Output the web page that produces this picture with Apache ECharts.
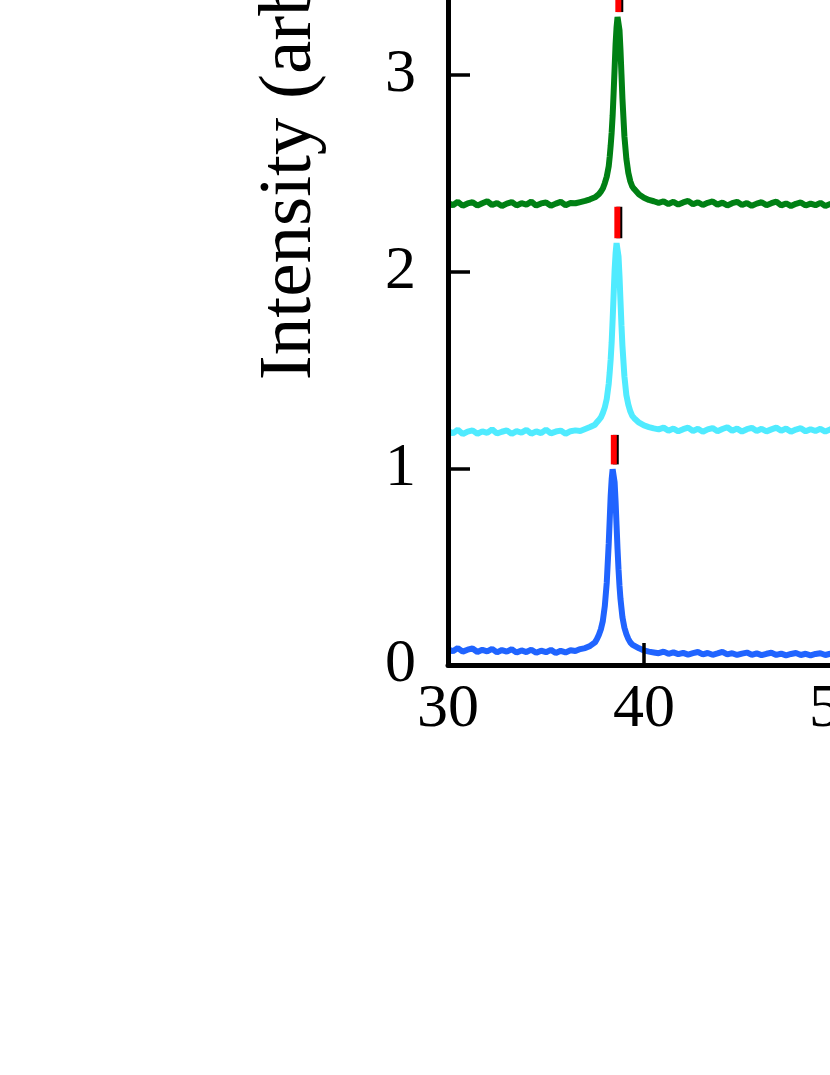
<!DOCTYPE html>
<html><head><meta charset="utf-8">
<script src="https://cdn.jsdelivr.net/npm/echarts@6/dist/echarts.min.js"></script>
<style>html,body{margin:0;padding:0;background:#fff}#c{width:830px;height:1075px}</style>
</head><body><div id="c"></div>
<script>
// 2θ sampling positions (degrees)
const twoTheta = [30,30.25,30.5,30.75,31,31.25,31.5,31.75,32,32.25,32.5,32.75,33,33.25,33.5,33.75,34,34.25,34.5,34.75,35,35.25,35.5,35.75,36,36.25,36.5,36.75,37,37.25,37.5,
37.6,37.7,37.8,37.9,38.0,38.1,38.2,38.25,38.3,38.35,38.4,38.45,38.5,38.55,38.6,38.65,38.7,38.75,38.8,38.85,38.9,39.0,39.1,39.2,39.3,39.4,
39.5,39.75,40,40.25,40.5,40.75,41,41.25,41.5,41.75,42,42.25,42.5,42.75,43,43.25,43.5,43.75,44,44.25,44.5,44.75,45,45.25,45.5,45.75,46,46.25,46.5,46.75,47,47.25,47.5,47.75,48,48.25,48.5,48.75,49,49.25,49.5,49.75,50];

const blueY = [0.08,0.07,0.086,0.068,0.078,0.084,0.066,0.077,0.069,0.082,0.064,0.076,0.068,0.08,0.063,0.074,0.066,0.078,0.062,0.073,0.065,0.077,0.061,0.072,0.064,0.075,0.071,0.081,0.086,0.097,0.115,
0.132,0.154,0.182,0.224,0.299,0.42,0.617,0.738,0.86,0.944,0.995,0.99,0.93,0.832,0.71,0.589,0.486,0.402,0.336,0.289,0.243,0.19,0.157,0.133,0.115,0.104,
0.098,0.085,0.074,0.068,0.064,0.06,0.068,0.057,0.064,0.055,0.062,0.053,0.06,0.066,0.054,0.061,0.052,0.059,0.067,0.054,0.06,0.051,0.058,0.063,0.052,0.059,0.05,0.057,0.062,0.051,0.058,0.049,0.056,0.061,0.051,0.057,0.049,0.056,0.06,0.051,0.057,0.05,0.055];

const cyanY = [1.19,1.178,1.196,1.174,1.187,1.193,1.176,1.188,1.18,1.198,1.177,1.186,1.193,1.175,1.189,1.181,1.195,1.176,1.188,1.179,1.197,1.178,1.187,1.192,1.176,1.189,1.193,1.19,1.2,1.21,1.222,
1.235,1.246,1.259,1.281,1.31,1.353,1.43,1.488,1.555,1.641,1.756,1.881,2.006,2.092,2.145,2.14,2.078,1.977,1.852,1.728,1.622,1.468,1.372,1.324,1.29,1.267,
1.255,1.232,1.218,1.21,1.203,1.198,1.207,1.191,1.202,1.188,1.199,1.207,1.19,1.201,1.186,1.198,1.205,1.189,1.2,1.209,1.191,1.202,1.187,1.199,1.206,1.19,1.201,1.188,1.198,1.207,1.191,1.202,1.186,1.197,1.204,1.188,1.199,1.19,1.201,1.187,1.198,1.205,1.192];

const greenY = [2.35,2.338,2.355,2.335,2.347,2.353,2.336,2.348,2.358,2.339,2.349,2.334,2.346,2.354,2.337,2.348,2.341,2.356,2.336,2.347,2.352,2.335,2.346,2.355,2.338,2.349,2.348,2.354,2.36,2.368,2.378,
2.385,2.394,2.407,2.423,2.45,2.483,2.536,2.584,2.641,2.708,2.794,2.908,3.033,3.157,3.243,3.295,3.29,3.228,3.128,3.004,2.88,2.689,2.574,2.503,2.46,2.433,
2.42,2.392,2.376,2.365,2.358,2.35,2.358,2.344,2.355,2.341,2.352,2.36,2.343,2.353,2.339,2.35,2.357,2.341,2.351,2.337,2.348,2.355,2.339,2.349,2.335,2.346,2.353,2.338,2.348,2.356,2.337,2.347,2.334,2.345,2.352,2.336,2.346,2.338,2.35,2.334,2.344,2.351,2.337];

// reference peak markers (position, bottom, top)
const refX  = [38.46, 38.64, 38.69];
const refY0 = [1.02, 2.17, 3.32];
const refY1 = [1.17, 2.33, 3.48];

const yTickLabels = ['0','1','2','3','4','5','6'];

const FONT = "'Liberation Serif','Times New Roman',serif";
const zip = (ys) => twoTheta.map((x, i) => [x, ys[i]]);

const series = [
  {name:'blue', type:'line', data: zip(blueY), color:'#2064ff'},
  {name:'cyan', type:'line', data: zip(cyanY), color:'#50ebff'},
  {name:'green', type:'line', data: zip(greenY), color:'#008014'}
].map(s => Object.assign(s, {showSymbol:false, symbol:'none', lineStyle:{width:6, color:s.color}, z:2, animation:false}));

refX.forEach((x, i) => {
  series.push({type:'line', showSymbol:false, symbol:'none', animation:false, z:3,
    data:[[x + 0.1, refY0[i]], [x + 0.1, refY1[i]]], lineStyle:{width:6, color:'#000'}});
  series.push({type:'line', showSymbol:false, symbol:'none', animation:false, z:4,
    data:[[x, refY0[i]], [x, refY1[i]]], lineStyle:{width:6, color:'#ff0000'}});
});

const chart = echarts.init(document.getElementById('c'), null, {renderer:'canvas'});
chart.setOption({
  animation:false,
  backgroundColor:'#fff',
  grid:{left:448, top:-515, width:980, height:1180, outerBoundsMode:'none', containLabel:false},
  xAxis:{type:'value', min:30, max:80, interval:10, z:10,
    axisLine:{lineStyle:{color:'#000', width:5}},
    axisTick:{inside:true, length:22, lineStyle:{color:'#000', width:3.5}},
    axisLabel:{fontFamily:FONT, fontSize:62, color:'#000', margin:14},
    splitLine:{show:false}},
  yAxis:{type:'value', min:0, max:6, interval:1, z:10,
    name:'Intensity (arb. units)', nameLocation:'middle', nameRotate:90, nameGap:120,
    nameTextStyle:{fontFamily:FONT, fontSize:75, color:'#000'},
    axisLine:{lineStyle:{color:'#000', width:5}},
    axisTick:{inside:true, length:22, lineStyle:{color:'#000', width:3.5}},
    axisLabel:{fontFamily:FONT, fontSize:62, color:'#000', margin:32, padding:[0,0,16,0],
      formatter:(v) => yTickLabels[Math.round(v)]},
    splitLine:{show:false}},
  series: series
});
</script></body></html>
